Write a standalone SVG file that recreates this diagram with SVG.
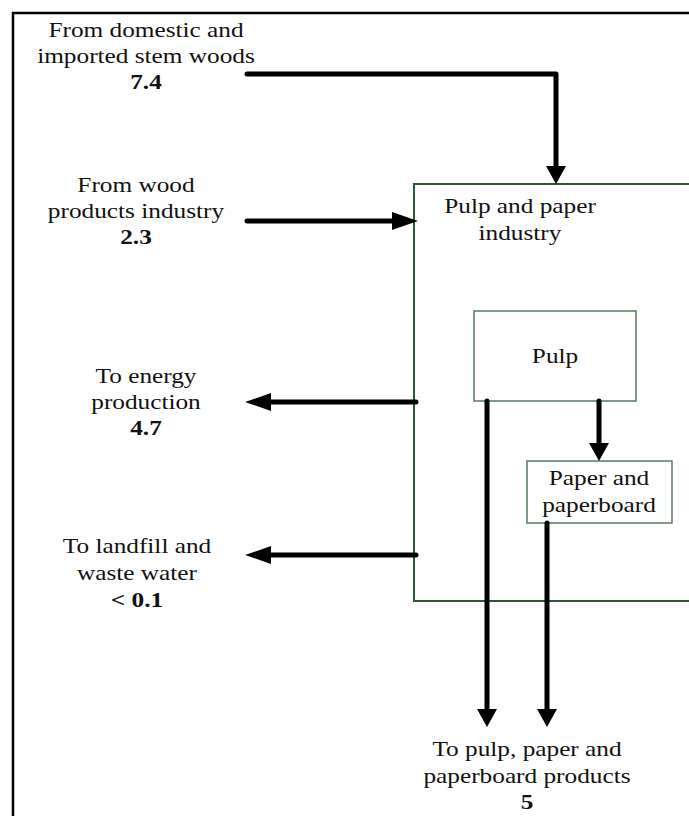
<svg xmlns="http://www.w3.org/2000/svg" width="689" height="816" viewBox="0 0 689 816">
<style>
text{font-family:"Liberation Serif","Times New Roman",serif;font-size:22px;fill:#111;text-anchor:middle}
.b{font-weight:bold}
.frame{fill:none;stroke:#000;stroke-width:2.5}
.big{fill:none;stroke:#2d5a36;stroke-width:2}
.box{fill:#fff;stroke:#557a5e;stroke-width:1.5}
.flow{fill:none;stroke:#000;stroke-width:5;stroke-linecap:round;stroke-linejoin:round}
</style>
<defs>
<marker id="ah" markerUnits="userSpaceOnUse" markerWidth="26" markerHeight="18" refX="0" refY="9" orient="auto" overflow="visible"><path d="M0,0 L26,9 L0,18 z" fill="#000"/></marker>
<marker id="av" markerUnits="userSpaceOnUse" markerWidth="18" markerHeight="20" refX="0" refY="10" orient="auto" overflow="visible"><path d="M0,0 L18,10 L0,20 z" fill="#000"/></marker>
</defs>
<rect width="689" height="816" fill="#fff"/>
<path class="frame" d="M13,816 V13 H689"/>
<g id="industry">
<path class="big" d="M689,184 H414 V601 H689"/>
<g transform="translate(520,0) scale(1.15,1)"><text x="0" y="213">Pulp and paper</text><text x="0" y="240">industry</text></g>
</g>
<g id="pulp">
<rect class="box" x="474" y="311" width="162" height="90"/>
<g transform="translate(555,0) scale(1.15,1)"><text x="0" y="363">Pulp</text></g>
</g>
<g id="paper">
<rect class="box" x="527" y="461" width="145" height="62"/>
<g transform="translate(599,0) scale(1.15,1)"><text x="0" y="485">Paper and</text><text x="0" y="512">paperboard</text></g>
</g>
<g id="src-stem">
<g transform="translate(146,0) scale(1.15,1)"><text x="0" y="37">From domestic and</text><text x="0" y="63">imported stem woods</text><text class="b" x="0" y="89">7.4</text></g>
</g>
<g id="src-wood">
<g transform="translate(136,0) scale(1.15,1)"><text x="0" y="192">From wood</text><text x="0" y="218">products industry</text><text class="b" x="0" y="244">2.3</text></g>
</g>
<g id="out-energy">
<g transform="translate(146,0) scale(1.15,1)"><text x="0" y="383">To energy</text><text x="0" y="409">production</text><text class="b" x="0" y="435">4.7</text></g>
</g>
<g id="out-landfill">
<g transform="translate(137,0) scale(1.15,1)"><text x="0" y="553">To landfill and</text><text x="0" y="580">waste water</text><text class="b" x="0" y="607">&lt; 0.1</text></g>
</g>
<g id="out-products">
<g transform="translate(527,0) scale(1.15,1)"><text x="0" y="756">To pulp, paper and</text><text x="0" y="783">paperboard products</text><text class="b" x="0" y="809">5</text></g>
</g>
<g id="connectors">
<path class="flow" d="M247,74 H556 V166" marker-end="url(#av)"/>
<path class="flow" d="M247,221 H392" marker-end="url(#ah)"/>
<path class="flow" d="M416,402 H271" marker-end="url(#ah)"/>
<path class="flow" d="M416,555 H271" marker-end="url(#ah)"/>
<path class="flow" d="M599,401 V443" marker-end="url(#av)"/>
<path class="flow" d="M487,401 V709" marker-end="url(#av)"/>
<path class="flow" d="M547,523 V709" marker-end="url(#av)"/>
</g>
</svg>
